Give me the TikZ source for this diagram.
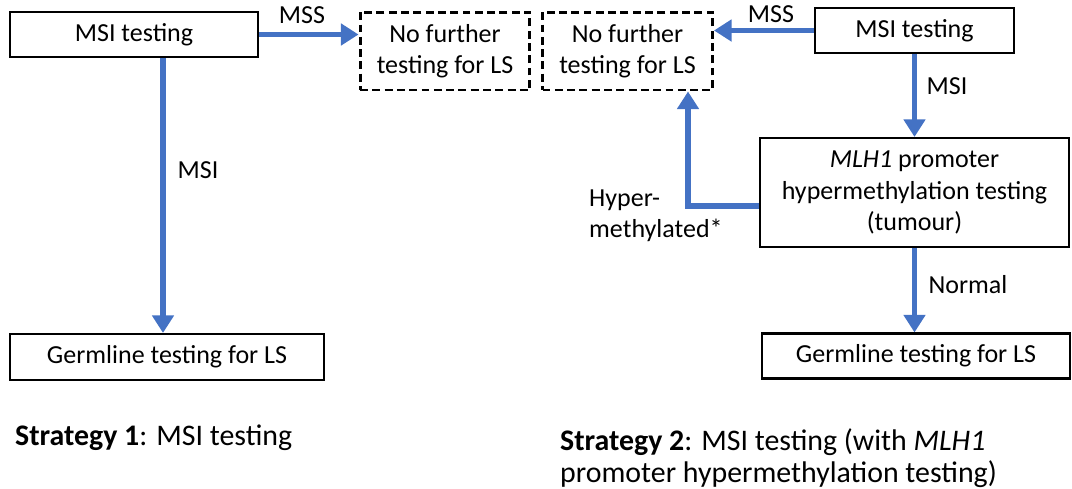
\documentclass[tikz,border=0pt]{standalone}
\usepackage{fontspec}
\setmainfont{Carlito}
\usetikzlibrary{arrows.meta,positioning}
\definecolor{flowblue}{RGB}{68,114,196}

\begin{document}
\begin{tikzpicture}[x=0.02cm,y=-0.02cm,
  txt/.style={font=\fontsize{14.8}{17.8}\selectfont},
  box/.style={txt,draw,line width=1.2pt,inner sep=2pt,align=center},
  dbox/.style={box,line width=1.7pt,dash pattern=on 4.5pt off 2.5pt},
  flow/.style={draw=flowblue,line width=3.1pt,-{Triangle[length=10pt,width=12pt]}},
  captxt/.style={font=\fontsize{17}{18.3}\selectfont}]
  \useasboundingbox (0,0) rectangle (1072,488);
  % strategy 1
  \node [box,minimum width=4.96cm,minimum height=0.9cm] (msi1) at (134,34.5) {MSI testing};
  \node [dbox,minimum width=3.4cm,minimum height=1.56cm] (nf1) at (445,51) {No further\\testing for LS};
  \node [box,minimum width=6.28cm,minimum height=0.92cm] (germ1) at (167,357) {Germline testing for LS};
  % strategy 2
  \node [dbox,minimum width=3.4cm,minimum height=1.56cm] (nf2) at (627.5,51) {No further\\testing for LS};
  \node [box,minimum width=3.98cm,minimum height=0.9cm] (msi2) at (914.5,30.5) {MSI testing};
  \node [box,minimum width=6.18cm,minimum height=2.18cm] (mlh2) at (914.5,192.5)
    {\textit{MLH1} promoter\\hypermethylation testing\\(tumour)};
  \node [box,minimum width=6.16cm,minimum height=0.9cm] (germ2) at (916,356) {Germline testing for LS};
  \coordinate (hc) at (688,206);

  \draw [flow] (msi1.east) -- (msi1.east -| nf1.west);
  \draw [flow] ([xshift=-0.08cm]germ1.north |- msi1.south) -- ([xshift=-0.08cm]germ1.north);
  \draw [flow] (msi2.west) -- (msi2.west -| nf2.east);
  \draw [flow] (mlh2.north |- msi2.south) -- (mlh2.north);
  \draw [flow] (mlh2.south) -- (mlh2.south |- germ2.north);
  \draw [flow] (mlh2.west |- hc) -- (hc) -- (hc |- nf2.south);

  \node [txt] (lmss1) at (302,15) {MSS};
  \node [txt] (lmsi1) at (198,170) {MSI};
  \node [txt] (lmss2) at (771,14) {MSS};
  \node [txt] (lmsi2) at (947,86) {MSI};
  \node [txt] (lnorm) at (968,285) {Normal};
  \node [txt,align=left,anchor=west] (lhyp) at (583,216) {Hyper-\\methylated*};

  \node [captxt,anchor=west] (cap1) at (9,438) {\textbf{Strategy 1}: MSI testing};
  \node [captxt,align=left,anchor=north west] (cap2) at (554,422)
    {\textbf{Strategy 2}: MSI testing (with \textit{MLH1}\\promoter hypermethylation testing)};
\end{tikzpicture}
\end{document}
